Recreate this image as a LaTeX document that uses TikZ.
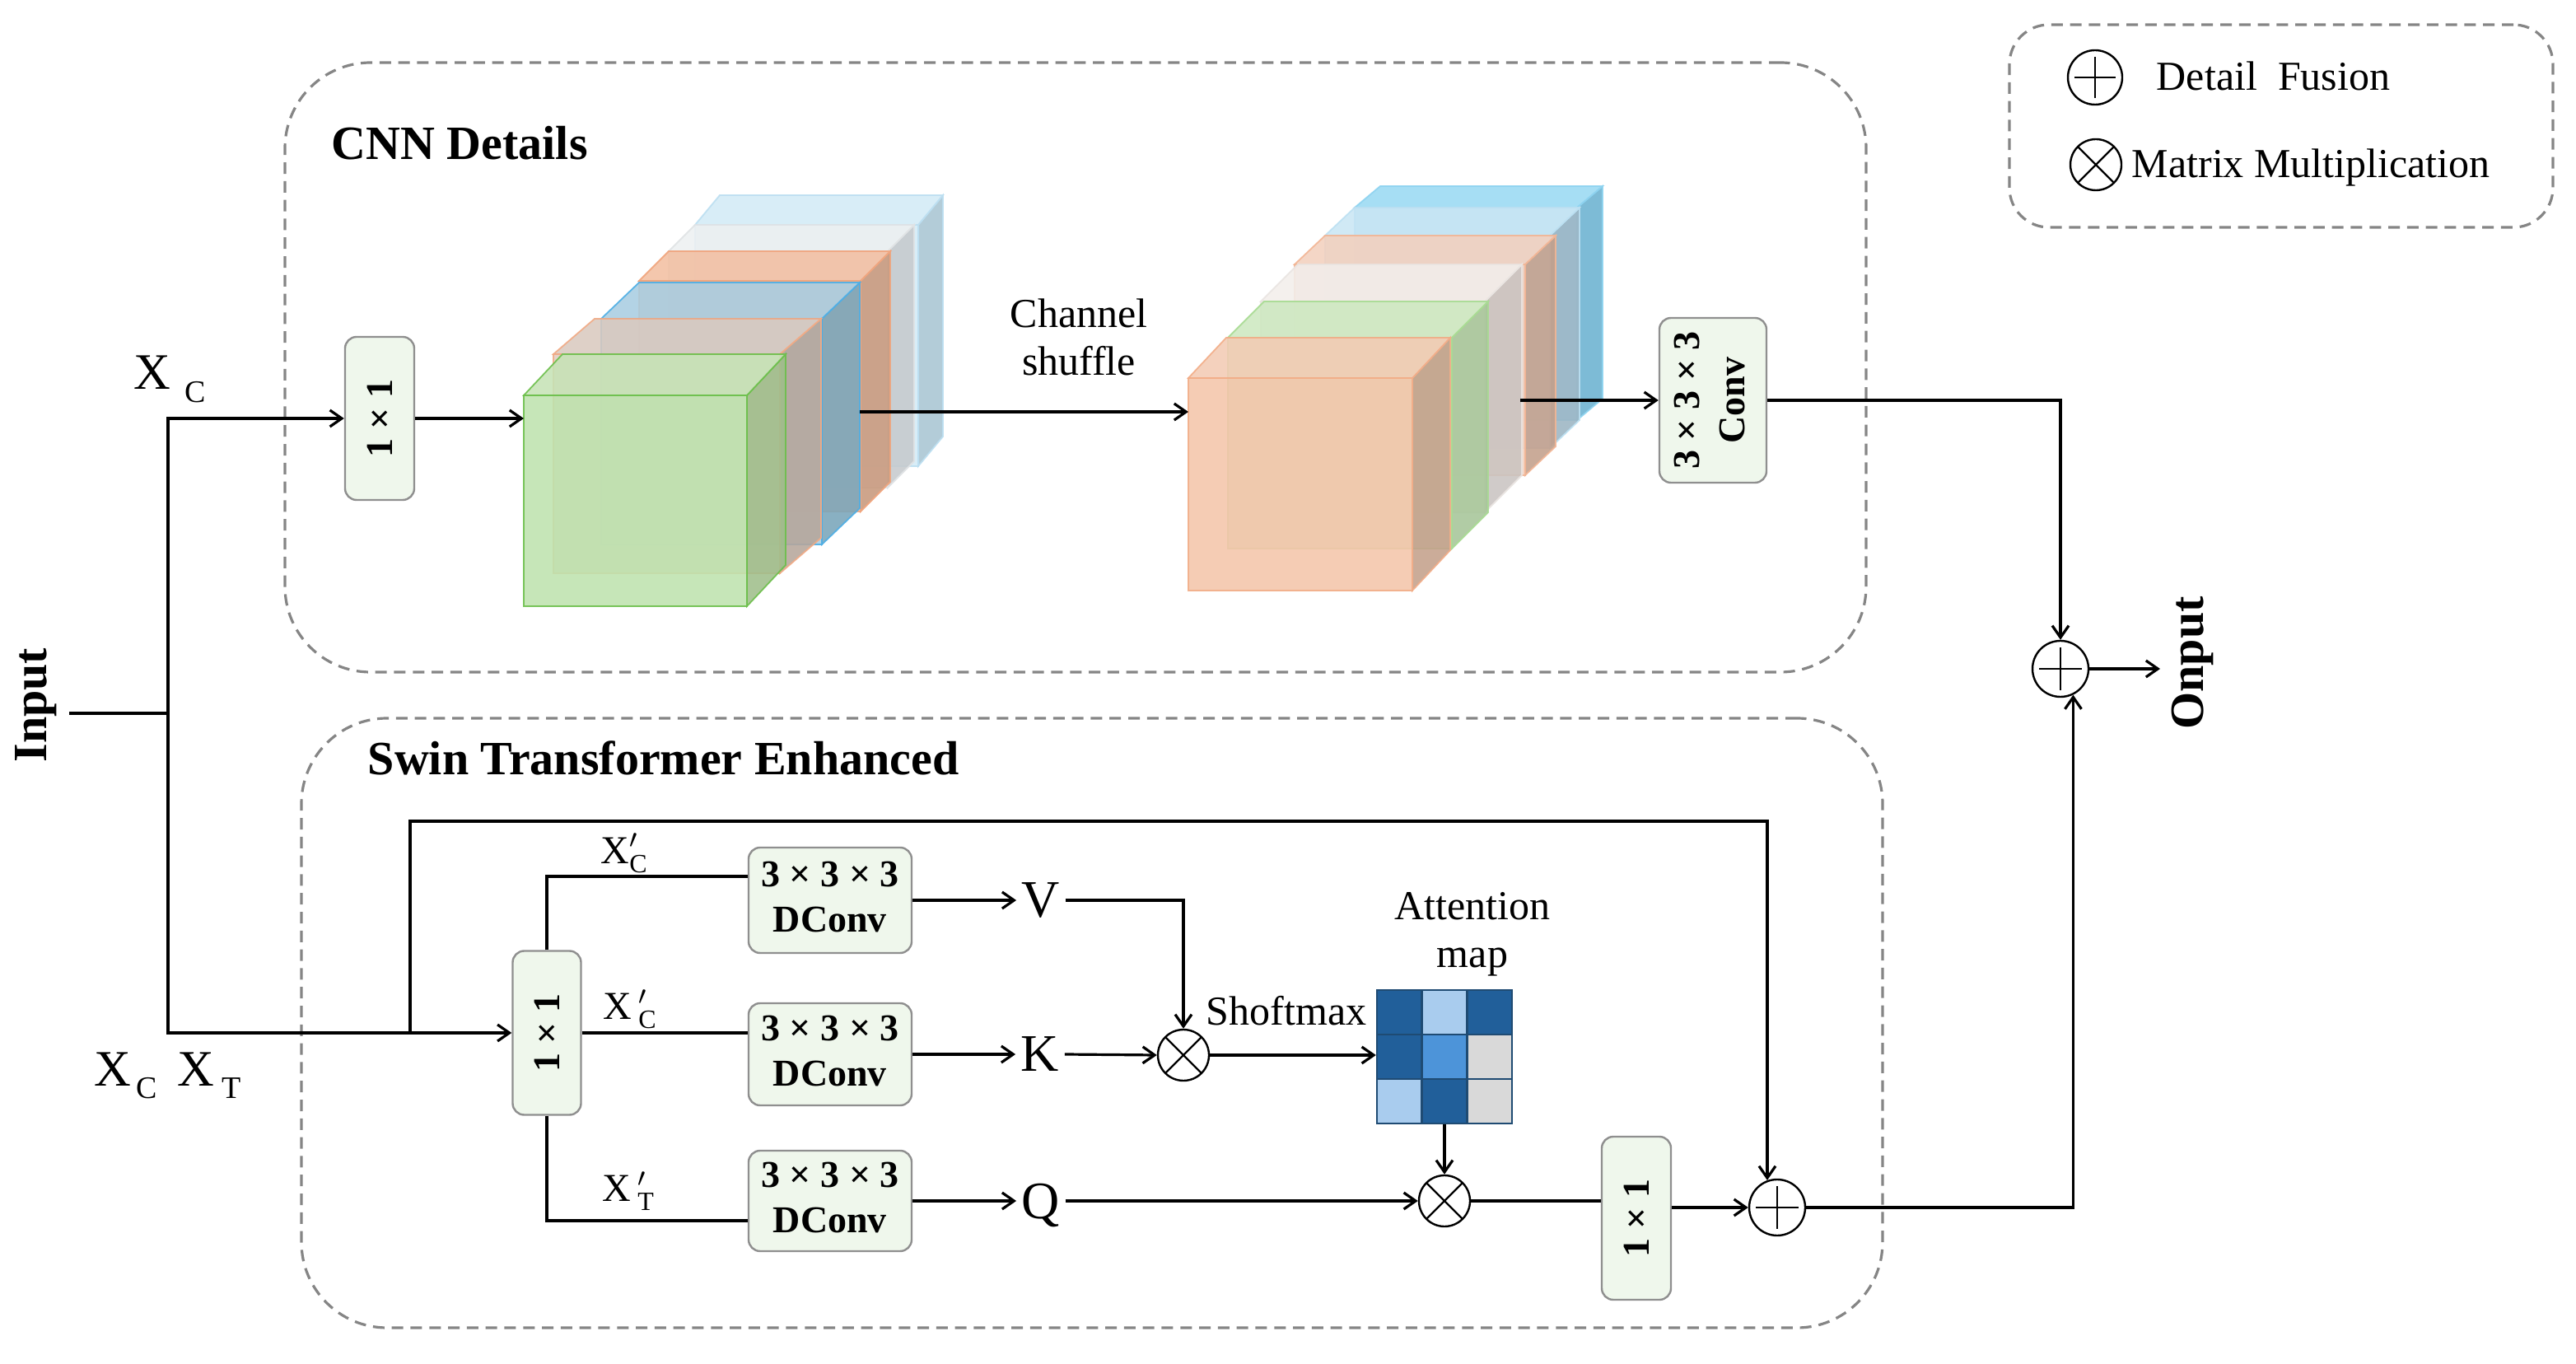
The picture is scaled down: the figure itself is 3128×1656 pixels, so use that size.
\documentclass[tikz,border=0pt]{standalone}
\usepackage{amsmath}
\usepackage{fontspec}
\setmainfont{Liberation Serif}
\usetikzlibrary{arrows.meta,calc}

\definecolor{boxgreen}{HTML}{EFF7EC}
\definecolor{boxedge}{HTML}{8F8F8F}
\definecolor{dashgray}{HTML}{858585}
\definecolor{mapD}{HTML}{215F9A}
\definecolor{mapL}{HTML}{A9CCEE}
\definecolor{mapM}{HTML}{4D94D9}
\definecolor{mapG}{HTML}{D9D9D9}
\definecolor{mapline}{HTML}{1F4B73}
% left stack
\definecolor{LBf}{HTML}{D3EAF6}\definecolor{LBt}{HTML}{D3EAF6}\definecolor{LBs}{HTML}{A9C5D3}\definecolor{LBe}{HTML}{BCDFF1}
\definecolor{GRf}{HTML}{EDF0F1}\definecolor{GRt}{HTML}{EDF0F1}\definecolor{GRs}{HTML}{C6CACD}\definecolor{GRe}{HTML}{E0E3E5}
\definecolor{ORf}{HTML}{F2BFA2}\definecolor{ORt}{HTML}{F2BFA2}\definecolor{ORs}{HTML}{C7987C}\definecolor{ORe}{HTML}{F0A57E}
\definecolor{BLf}{HTML}{A8CDE1}\definecolor{BLt}{HTML}{A8CDE1}\definecolor{BLs}{HTML}{79A5B9}\definecolor{BLe}{HTML}{4DAEE5}
\definecolor{PAf}{HTML}{E2CDC0}\definecolor{PAt}{HTML}{DAC9BF}\definecolor{PAs}{HTML}{B6A69B}\definecolor{PAe}{HTML}{F1AA85}
\definecolor{GNf}{HTML}{BEE3AE}\definecolor{GNt}{HTML}{C6E3B6}\definecolor{GNs}{HTML}{9FBE8B}\definecolor{GNe}{HTML}{6CBF4B}
% right stack
\definecolor{RBf}{HTML}{9AD9F3}\definecolor{RBt}{HTML}{9AD9F3}\definecolor{RBs}{HTML}{6BB2D0}\definecolor{RBe}{HTML}{8ED3F0}
\definecolor{RLf}{HTML}{CAE6F4}\definecolor{RLt}{HTML}{CAE6F4}\definecolor{RLs}{HTML}{9CB5C3}\definecolor{RLe}{HTML}{BCE0F2}
\definecolor{ROf}{HTML}{F3D0BE}\definecolor{ROt}{HTML}{F3D0BE}\definecolor{ROs}{HTML}{C39F8B}\definecolor{ROe}{HTML}{F2B595}
\definecolor{RWf}{HTML}{F2EEEB}\definecolor{RWt}{HTML}{F2EEEB}\definecolor{RWs}{HTML}{CAC4C1}\definecolor{RWe}{HTML}{EAE5E2}
\definecolor{RGf}{HTML}{CDE8C0}\definecolor{RGt}{HTML}{CDE8C0}\definecolor{RGs}{HTML}{A6C598}\definecolor{RGe}{HTML}{A8DB93}
\definecolor{RPf}{HTML}{F4C5AA}\definecolor{RPt}{HTML}{F3CBB4}\definecolor{RPs}{HTML}{C4A08B}\definecolor{RPe}{HTML}{F2AD88}

\newcommand{\myttl}{\fontsize{14.5}{17}\selectfont\bfseries}
\newcommand{\mybox}{\fontsize{11.5}{13.8}\selectfont\bfseries}
\newcommand{\mylbl}{\fontsize{12.5}{14.5}\selectfont}
\newcommand{\myvkq}{\fontsize{16}{19}\selectfont}
\newcommand{\myxl}{\fontsize{15.5}{18}\selectfont}
\newcommand{\mysub}{\fontsize{9.5}{11}\selectfont}
\newcommand{\myprm}{\fontsize{12}{14}\selectfont}

% #1 fx #2 fy #3 w #4 h #5 dx #6 dy #7 colour prefix
\newcommand{\cublayer}[7]{%
  \filldraw[fill=#7s, draw=#7e, cubeface] (#1+#3,#2) -- (#1+#3+#5,#2-#6) -- (#1+#3+#5,#2+#4-#6) -- (#1+#3,#2+#4) -- cycle;
  \filldraw[fill=#7t, draw=#7e, cubeface] (#1,#2) -- (#1+#5,#2-#6) -- (#1+#3+#5,#2-#6) -- (#1+#3,#2) -- cycle;
  \filldraw[fill=#7f, draw=#7e, cubeface] (#1,#2) rectangle (#1+#3,#2+#4);
}

\tikzset{
  cubeface/.style={fill opacity=0.88, draw opacity=0.9, line width=0.45pt},
  arr/.style={line width=0.8pt, -{Straight Barb[length=3.6pt,width=5pt]}},
  ln/.style={line width=0.8pt},
  gbox/.style={draw=boxedge, fill=boxgreen, rounded corners=3.5pt, line width=0.6pt, inner sep=0pt, font=\mybox},
  dbox/.style={draw=dashgray, dash pattern=on 3.5pt off 2.2pt, line width=0.8pt, inner sep=0pt},
  opl/.style={circle, draw, line width=0.6pt, inner sep=0pt, minimum size=#1,
    path picture={\draw[line width=0.6pt]
      ([yshift=-2pt]path picture bounding box.north) -- ([yshift=2pt]path picture bounding box.south)
      ([xshift=2pt]path picture bounding box.west) -- ([xshift=-2pt]path picture bounding box.east);}},
  otm/.style={circle, draw, line width=0.6pt, inner sep=0pt, minimum size=#1,
    path picture={\draw[line width=0.6pt]
      ($(path picture bounding box.center)!0.707!(path picture bounding box.north east)$) --
      ($(path picture bounding box.center)!0.707!(path picture bounding box.south west)$)
      ($(path picture bounding box.center)!0.707!(path picture bounding box.north west)$) --
      ($(path picture bounding box.center)!0.707!(path picture bounding box.south east)$);}},
  letter/.style={font=\myvkq, inner sep=1.5pt, text depth=0pt},
}

\begin{document}
\begin{tikzpicture}[x=0.25pt,y=-0.25pt]
\useasboundingbox (0,0) rectangle (3128,1656);

% dashed group boxes
\node[dbox, minimum width=480pt, minimum height=185pt, rounded corners=26pt] (cnnbox) at (1306,446) {};
\node[dbox, minimum width=480pt, minimum height=185pt, rounded corners=26pt] (swinbox) at (1326,1242) {};
\node[dbox, minimum width=165pt, minimum height=61.5pt, rounded corners=12pt] (legend) at (2770,153) {};

\node[anchor=west, font=\myttl, inner sep=0pt] (cnnt) at (402,174) {CNN Details};
\node[anchor=west, font=\myttl, inner sep=0pt] (swint) at (446,920) {Swin Transformer Enhanced};

% legend
\node[opl=16.5pt] (lg1) at (2544,94) {};
\node[anchor=base west, font=\mylbl, inner sep=0pt] (lg1t) at (2618,110) {Detail\ \ Fusion};
\node[otm=15.5pt] (lg2) at (2545,200) {};
\node[anchor=base west, font=\mylbl, inner sep=0pt] (lg2t) at (2588,216) {Matrix Multiplication};

% input
\node[rotate=90, font=\myttl, inner sep=0pt] (inp) at (44,856) {Input};
\coordinate (inpend) at (84,866);
\coordinate (split) at (204,866);
\draw[ln] (inpend) -- (split);
\node[gbox, minimum width=21pt, minimum height=49.5pt] (b1) at (461,508) {\rotatebox{90}{1 × 1}};
\node[gbox, minimum width=20.75pt, minimum height=49.75pt] (b2) at (664,1254) {\rotatebox{90}{1 × 1}};
\draw[arr] (split) |- (b1.west);
\draw[arr] (split) |- (b2.west);

\node[anchor=base west, inner sep=0pt, font=\myxl] (xc) at (162,473) {X\hspace{4.2pt}\raisebox{-4pt}{\mysub C}};
\node[anchor=base west, inner sep=0pt, font=\myxl] (xcxt) at (114,1318) {X\hspace{1.6pt}\raisebox{-3.8pt}{\mysub C}\hspace{6pt}X\hspace{2.4pt}\raisebox{-3.8pt}{\mysub T}};

% left cube stack (back to front)
\cublayer{844}{273}{271}{293}{30}{36}{LB}
\cublayer{812}{305}{266}{287}{32}{32}{GR}
\cublayer{776}{341}{269}{280}{36}{36}{OR}
\cublayer{730}{387}{268}{274}{46}{44}{BL}
\cublayer{672}{430}{275}{266}{50}{43}{PA}
\cublayer{636}{480}{271}{256}{47}{50}{GN}

% right cube stack (back to front)
\cublayer{1645}{252}{270}{258}{31}{26}{RB}
\cublayer{1609}{286}{273}{258}{36}{34}{RL}
\cublayer{1572}{321}{280}{256}{37}{35}{RO}
\cublayer{1531}{366}{272}{256}{45}{45}{RW}
\cublayer{1491}{410}{272}{256}{44}{44}{RG}
\cublayer{1443}{459}{272}{258}{46}{49}{RP}

\coordinate (cain) at (636,508);
\draw[arr] (b1.east) -- (cain);
\coordinate (caout) at (1044,500);
\coordinate (cbin) at (1443,500);
\draw[arr] (caout) -- (cbin);
\node[font=\mylbl, align=center, inner sep=0pt] (shuf) at (1310,409) {Channel\\shuffle};

\node[gbox, minimum width=32.5pt, minimum height=50pt] (conv) at (2080,486)
  {\rotatebox{90}{\begin{tabular}{@{}c@{}}3 × 3 × 3\\Conv\end{tabular}}};
\coordinate (cbout) at (1846,486);
\draw[arr] (cbout) -- (conv.west);

\node[opl=17pt] (oplus1) at (2502,812) {};
\draw[arr] (conv.east) -| (oplus1.north);
\coordinate (outend) at (2623,812);
\draw[arr] (oplus1.east) -- (outend);
\node[rotate=90, font=\myttl, inner sep=0pt] (onput) at (2662,805) {Onput};

% swin branch
\node[opl=17pt] (oplus2) at (2158,1466) {};
\coordinate (skip0) at (498,1254);
\coordinate (skiptop) at (498,997);
\draw[arr] (skip0) -- (skiptop) -| (oplus2.110);

\node[gbox, minimum width=49.5pt, minimum height=32pt] (dc1) at (1008,1093) {\begin{tabular}{@{}c@{}}3 × 3 × 3\\DConv\end{tabular}};
\node[gbox, minimum width=49.5pt, minimum height=31pt] (dc2) at (1008,1280) {\begin{tabular}{@{}c@{}}3 × 3 × 3\\DConv\end{tabular}};
\node[gbox, minimum width=49.5pt, minimum height=30.5pt] (dc3) at (1008,1458) {\begin{tabular}{@{}c@{}}3 × 3 × 3\\DConv\end{tabular}};

\coordinate (yl1) at (0,1064);
\coordinate (yl3) at (0,1482);
\draw[ln] (b2.north) |- (dc1.west |- yl1);
\draw[ln] (b2.east) -- (dc2.west |- b2.east);
\draw[ln] (b2.south) |- (dc3.west |- yl3);

\node[anchor=base west, inner sep=0pt, font=\myprm] (xc1) at (729,1048) {$\text{X}'_{\text{C}}$};
\node[anchor=base west, inner sep=0pt, font=\myprm] (xc2) at (732,1237) {$\text{X}\,{}'_{\text{C}}$};
\node[anchor=base west, inner sep=0pt, font=\myprm] (xt) at (731,1458) {$\text{X}\,{}'_{\text{T}}$};

\node[letter] (V) at (1264,1093) {V};
\node[letter] (K) at (1263,1280) {K};
\node[letter] (Q) at (1264,1458) {Q};
\draw[arr] (dc1.east) -- (V.west);
\draw[arr] (dc2.east) -- (K.west);
\draw[arr] (dc3.east) -- (Q.west);

\node[otm=15.5pt] (ot1) at (1437,1281) {};
\draw[arr] (V.east) -| (ot1.north);
\draw[arr] (K.east) -- (ot1.west);
\node[font=\mylbl, inner sep=0pt] (soft) at (1562,1227) {Shoftmax};

\foreach \r/\c/\col in {0/0/mapD,0/1/mapL,0/2/mapD,1/0/mapD,1/1/mapM,1/2/mapG,2/0/mapL,2/1/mapD,2/2/mapG}
  \filldraw[fill=\col, draw=mapline, line width=0.6pt] (1672+54.67*\c,1202+54*\r) rectangle ++(54.67,54);
\node[draw=mapline, line width=0.6pt, minimum width=41pt, minimum height=40.5pt, inner sep=0pt] (map) at (1754,1283) {};
\draw[arr] (ot1.east) -- (map.west |- ot1.east);
\node[font=\mylbl, align=center, inner sep=0pt] (attn) at (1788,1134) {Attention\\map};

\node[otm=15.5pt] (ot2) at (1754,1458) {};
\draw[arr] (map.south) -- (ot2.north);
\draw[arr] (Q.east) -- (ot2.west);

\node[gbox, minimum width=21pt, minimum height=49.5pt] (b3) at (1987,1479) {\rotatebox{90}{1 × 1}};
\draw[ln] (ot2.east) -- (b3.west |- ot2.east);
\draw[arr] (b3.east |- oplus2.west) -- (oplus2.west);
\draw[arr] (oplus2.east) -| (oplus1.-64);

\end{tikzpicture}
\end{document}
